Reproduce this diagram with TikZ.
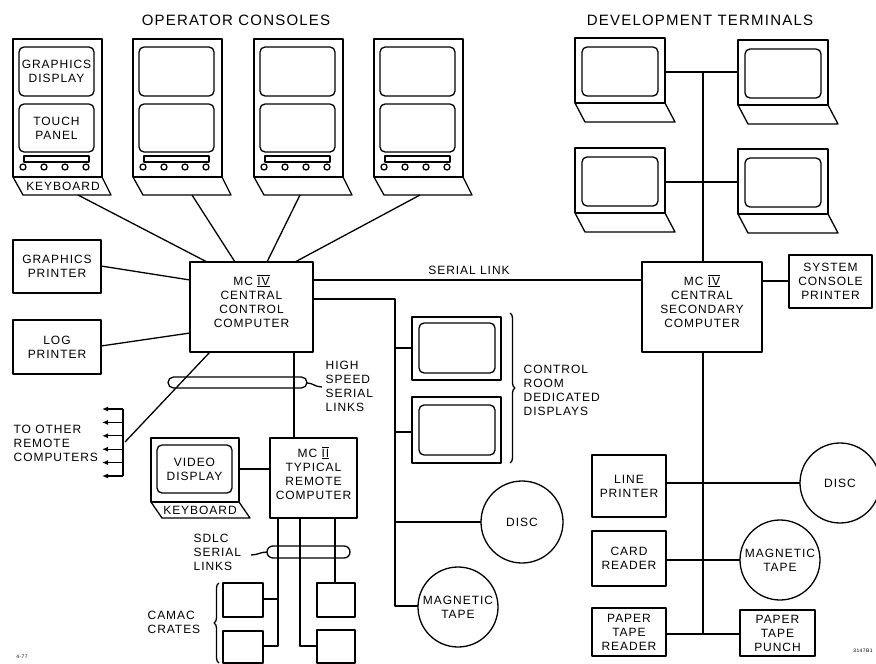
\documentclass[tikz,border=0pt]{standalone}
\usepackage{fontspec}
\setmainfont{Liberation Sans}[LetterSpace=8]
\usetikzlibrary{decorations.pathreplacing,arrows.meta}
\newcommand\lab{\fontsize{12}{14}\selectfont}
\newcommand\ttlfont{\fontsize{15}{18}\selectfont}
\newcommand\rn[1]{$\overline{\underline{\mbox{#1}}}$}
\tikzset{
  box/.style={draw, rectangle, inner sep=0pt, outer sep=0pt, align=center, font=\lab},
  lab/.style={font=\lab, align=center, inner sep=0pt},
  scr/.style={draw, rectangle, rounded corners=5pt, inner sep=0pt, outer sep=0pt, align=center, font=\lab},
  disk/.style={draw, circle, inner sep=0pt, outer sep=0pt, minimum size=#1, font=\lab, align=center},
  ttl/.style={font=\ttlfont, inner sep=0pt},
  arr/.style={-{Latex[length=6pt,width=5pt]}},
  brc/.style={decorate, decoration={brace, amplitude=5pt}},
}
% operator console: x0, name, screen1, screen2, keyboard text
\newcommand\opcon[5]{%
  \begin{scope}[shift={(#1,39)}]
    \node[box, minimum width=89pt, minimum height=138pt, anchor=north west] (#2) at (0,0) {};
    \node[scr, minimum width=75pt, minimum height=49pt] (#2a) at (43.5,32.5) {#3};
    \node[scr, minimum width=75pt, minimum height=48pt] (#2b) at (43.5,89) {#4};
    \draw (11,117) rectangle (76,123);
    \foreach \cx in {10,31,52,73} \draw (\cx,128) circle (3pt);
    \draw (0,138) -- (10,156) -- (98,156) -- (89,138);
    \node[lab] at (50,147) {#5};
  \end{scope}}
% development terminal: x0, y0, name
\newcommand\devterm[3]{%
  \begin{scope}[shift={(#1,#2)}]
    \node[box, minimum width=90pt, minimum height=65pt, anchor=north west] (#3) at (0,0) {};
    \node[scr, minimum width=76pt, minimum height=49pt] (#3s) at (45,33.5) {};
    \draw (0,65) -- (10,84) -- (100,84) -- (90,65);
  \end{scope}}
\begin{document}
\begin{tikzpicture}[x=1pt, y=-1pt, line width=1.3pt, line join=round]
\useasboundingbox (0,0) rectangle (876,664);

% titles
\node[ttl] (t1) at (236,20) {OPERATOR CONSOLES};
\node[ttl] (t2) at (700,20) {DEVELOPMENT TERMINALS};

% operator consoles
\opcon{13}{c1}{GRAPHICS\\DISPLAY}{TOUCH\\PANEL}{KEYBOARD}
\opcon{133}{c2}{}{}{}
\opcon{254}{c3}{}{}{}
\opcon{374}{c4}{}{}{}
\coordinate (c1k) at (78,195);
\coordinate (c2k) at (192,195);
\coordinate (c3k) at (300,195);
\coordinate (c4k) at (420,195);

% central control computer
\node[box, minimum width=123pt, minimum height=90pt] (cc) at (251.5,307) {};
\node[lab] (cct) at (251.5,301) {MC \rn{IV}\\CENTRAL\\CONTROL\\COMPUTER};
\coordinate (cc1) at (207,262);
\coordinate (cc2) at (235,262);
\coordinate (cc3) at (267,262);
\coordinate (cc4) at (295,262);
\draw (c1k) -- (cc1);
\draw (c2k) -- (cc2);
\draw (c3k) -- (cc3);
\draw (c4k) -- (cc4);

% printers
\node[box, minimum width=88pt, minimum height=53pt] (gp) at (57,266.5) {GRAPHICS\\PRINTER};
\node[box, minimum width=88pt, minimum height=54pt] (lp) at (57,347) {LOG\\PRINTER};
\coordinate (gpr) at (101,266);
\coordinate (ccg) at (190,280);
\coordinate (lpr) at (101,346);
\coordinate (ccl) at (190,333);
\draw (gpr) -- (ccg);
\draw (lpr) -- (ccl);

% to other remote computers
\coordinate (ccd) at (210,352);
\coordinate (rb) at (125,442);
\coordinate (rt) at (123,409);
\coordinate (rbot) at (123,476);
\draw (ccd) -- (rb);
\draw (rt) -- (rbot);
\foreach \yy in {409,422.4,435.8,449.2,462.6,476} {
  \coordinate (ra) at (123,\yy);
  \coordinate (rz) at (102,\yy);
  \draw[arr] (ra) -- (rz);
}
\node[lab, align=left, anchor=west] (tor) at (13,443.5) {TO OTHER\\REMOTE\\COMPUTERS};

% high speed serial links
\draw[rounded corners=5.5pt] (168,377) rectangle (307,388);
\coordinate (hsa) at (307,383);
\coordinate (hsb) at (322,387);
\draw (hsa) .. controls (313,383) and (315,387) .. (hsb);
\node[lab, align=left, anchor=west] (hsl) at (325,386) {HIGH\\SPEED\\SERIAL\\LINKS};

% MC II remote computer
\node[box, minimum width=87pt, minimum height=80pt] (mc2) at (313.5,478) {};
\node[lab] (mc2t) at (313.5,473) {MC \rn{II}\\TYPICAL\\REMOTE\\COMPUTER};
\coordinate (ccb) at (294,352);
\coordinate (mc2top) at (294,438);
\draw (ccb) -- (mc2top);

% video display terminal
\node[box, minimum width=88pt, minimum height=64pt] (vd) at (195,470) {};
\node[scr, minimum width=75pt, minimum height=48pt] (vds) at (194.5,469) {VIDEO\\DISPLAY};
\draw (151,502) -- (162,518) -- (250,518) -- (239,502);
\node[lab] (vkb) at (200,510) {KEYBOARD};
\coordinate (vdr) at (239,469);
\coordinate (mc2l) at (270,469);
\draw (vdr) -- (mc2l);

% CAMAC crates
\node[box, minimum width=40pt, minimum height=34pt] (cr1) at (243,600) {};
\node[box, minimum width=40pt, minimum height=32pt] (cr2) at (243,647) {};
\node[box, minimum width=38pt, minimum height=34pt] (cr3) at (336,600) {};
\node[box, minimum width=38pt, minimum height=33pt] (cr4) at (336,646.5) {};
\draw (278,518) -- (278,646) -- (263,646);
\draw (278,599) -- (263,599);
\draw (300,518) -- (300,646) -- (317,646);
\draw (335,518) -- (335,583);
\draw[rounded corners=6pt] (267,546) rectangle (350,558);
\coordinate (sda) at (267,552);
\coordinate (sdb) at (251,555);
\draw (sda) .. controls (260,552) and (258,555) .. (sdb);
\node[lab, align=left, anchor=west] (sdl) at (193,552) {SDLC\\SERIAL\\LINKS};
\draw[brc] (219,663) -- (219,583);
\node[lab, align=left, anchor=west] (cml) at (147,622.5) {CAMAC\\CRATES};

% control room dedicated displays
\node[box, minimum width=89pt, minimum height=63pt] (d1) at (456.5,348.5) {};
\node[scr, minimum width=76pt, minimum height=50pt] (d1s) at (457,348) {};
\node[box, minimum width=89pt, minimum height=66pt] (d2) at (456.5,430) {};
\node[scr, minimum width=76pt, minimum height=50pt] (d2s) at (457,430) {};
\draw (313,299) -- (395,299) -- (395,606) -- (418,606);
\draw (395,348) -- (412,348);
\draw (395,432) -- (412,432);
\draw (395,522) -- (481,522);
\draw[brc] (510,313) -- (510,463);
\node[lab, align=left, anchor=west] (crl) at (523,390) {CONTROL\\ROOM\\DEDICATED\\DISPLAYS};
\node[disk=82pt] (disc1) at (522,522) {DISC};
\node[disk=80pt] (tape1) at (458,607) {MAGNETIC\\TAPE};

% serial link
\coordinate (sl1) at (313,280);
\coordinate (sl2) at (642,280);
\draw (sl1) -- (sl2);
\node[lab] (sll) at (469,270) {SERIAL LINK};

% central secondary computer
\node[box, minimum width=120pt, minimum height=90pt] (sc) at (702,307) {};
\node[lab] (sct) at (702,301) {MC \rn{IV}\\CENTRAL\\SECONDARY\\COMPUTER};
\node[box, minimum width=83pt, minimum height=53pt] (scp) at (830.5,281.5) {SYSTEM\\CONSOLE\\PRINTER};
\draw (762,281) -- (789,281);

% development terminals
\devterm{575}{38}{dt1}
\devterm{738}{40}{dt2}
\devterm{575}{148}{dt3}
\devterm{738}{149}{dt4}
\draw (665,72) -- (738,72);
\draw (665,182) -- (738,182);
\draw (703,72) -- (703,262);

% secondary peripherals
\node[box, minimum width=74pt, minimum height=62pt] (lpr2) at (629,486) {LINE\\PRINTER};
\node[box, minimum width=74pt, minimum height=55pt] (crd) at (629,558.5) {CARD\\READER};
\node[box, minimum width=74pt, minimum height=48pt] (ptr) at (629,632) {PAPER\\TAPE\\READER};
\node[box, minimum width=75pt, minimum height=46pt] (ptp) at (777.5,633) {PAPER\\TAPE\\PUNCH};
\node[disk=80pt] (disc2) at (840,483) {DISC};
\node[disk=80pt] (tape2) at (780,560) {MAGNETIC\\TAPE};
\draw (703,352) -- (703,634);
\draw (666,483) -- (800,483);
\draw (666,560) -- (740,560);
\draw (666,634) -- (740,634);

% figure numbers
\node[font=\fontsize{5}{6}\selectfont, inner sep=0pt] (fn1) at (22,657) {4-77};
\node[font=\fontsize{5}{6}\selectfont, inner sep=0pt] (fn2) at (863,651) {3147B1};
\end{tikzpicture}
\end{document}
